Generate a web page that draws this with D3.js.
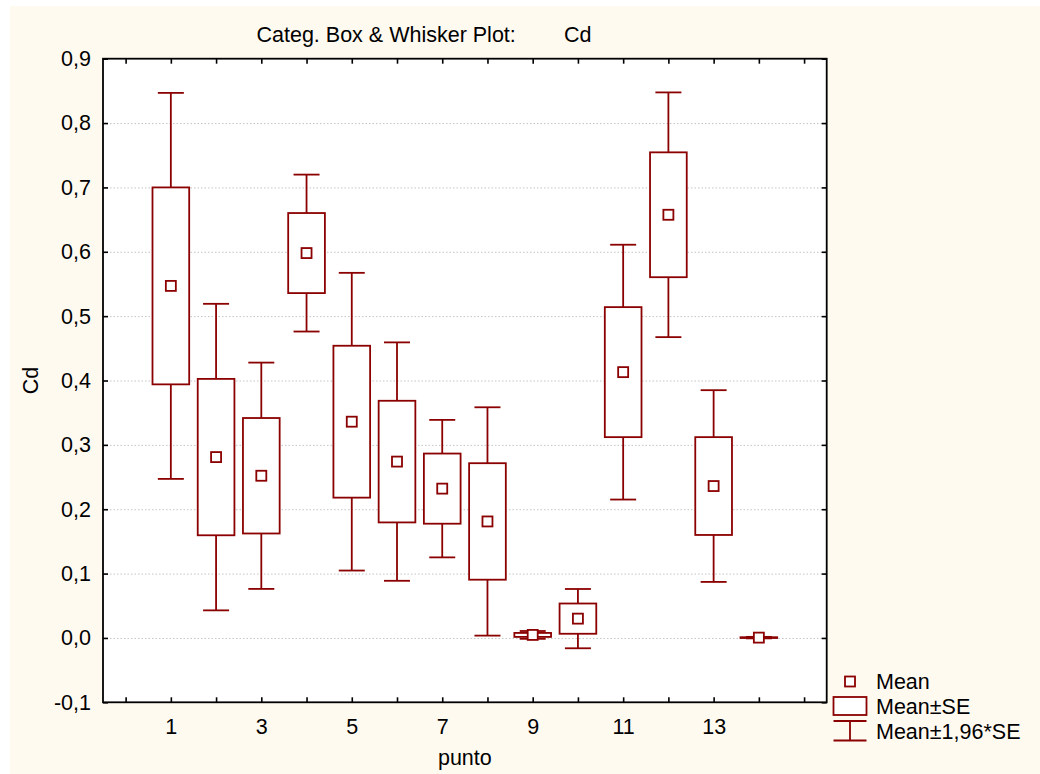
<!DOCTYPE html>
<html>
    <head>
        <meta http-equiv="Content-Type" content="text/html; charset=UTF-8">
        <script src="https://d3js.org/d3.v7.min.js"></script>
        <style>
            html, body {
                margin: 0;
                padding: 0;
                background-color: #ffffff;
            }
            svg text {
                font-family: 'Liberation Sans', Arial, sans-serif;
                font-size: 21.5px;
                fill: #000;
            }
        </style>
        <title>Categ. Box & Whisker Plot: Cd</title>
    </head>
    <body>
        <script>
            // values
            var categories = [1, 2, 3, 4, 5, 6, 7, 8, 9, 10, 11, 12, 13, 14];
            var means = [0.547, 0.281, 0.252, 0.598, 0.336, 0.274, 0.232, 0.181, 0.0047, 0.030, 0.413, 0.6575, 0.236, 0.0005];
            var se = [0.153, 0.1215, 0.0897, 0.0622, 0.118, 0.0945, 0.0545, 0.0905, 0.0031, 0.0235, 0.101, 0.097, 0.076, 0.0006];
            var xTicks = [0, 1, 2, 3, 4, 5, 6, 7, 8, 9, 10, 11, 12, 13, 14, 15];
            var xTickLabels = ["1", "3", "5", "7", "9", "11", "13"];
            var yTicks = [-0.1, 0, 0.1, 0.2, 0.3, 0.4, 0.5, 0.6, 0.7, 0.8, 0.9];
            var legendLabels = ["Mean", "Mean\u00b1SE", "Mean\u00b11,96*SE"];

            var ww = 1040, hh = 774;
            var col = "#8b0000";
            var pl = 103, pr = 826.7, pt = 58.7, pb = 702.3;

            var svg = d3.select("body").append("svg").attr("width", ww).attr("height", hh);

            svg.append("rect").attr("x", 10).attr("y", 6).attr("width", ww - 10).attr("height", hh - 6)
                .style("fill", "#fffaf0");
            svg.append("rect").attr("x", pl).attr("y", pt).attr("width", pr - pl).attr("height", pb - pt)
                .style("fill", "#ffffff");

            var x = d3.scaleLinear().domain([-0.5, 15.5]).range([pl, pr]);
            var y = d3.scaleLinear().domain([-0.1, 0.9]).range([pb, pt]);

            var comma = d3.formatLocale({decimal: ",", thousands: ".", grouping: [3], currency: ["", ""], minus: "-"}).format(".1f");

            // grid
            var grid = svg.append("g").attr("transform", "translate(" + pl + ",0)")
                .call(d3.axisLeft(y).tickValues(yTicks.slice(1, -1)).tickSize(-(pr - pl)).tickFormat(""));
            grid.select(".domain").remove();
            grid.selectAll("line").style("stroke", "#c4c4c4").style("stroke-dasharray", "1.5,2");

            // axes
            var ax = [];
            ax.push(svg.append("g").attr("transform", "translate(0," + pb + ")")
                .call(d3.axisBottom(x).tickValues(xTicks).tickSize(-5).tickSizeOuter(0).tickPadding(16)
                    .tickFormat(function(d) { return xTickLabels.indexOf(String(d)) >= 0 ? String(d) : ""; })));
            ax.push(svg.append("g").attr("transform", "translate(0," + pt + ")")
                .call(d3.axisTop(x).tickValues(xTicks).tickSize(-5).tickSizeOuter(0).tickFormat("")));
            ax.push(svg.append("g").attr("transform", "translate(" + pl + ",0)")
                .call(d3.axisLeft(y).tickValues(yTicks).tickSize(-5).tickSizeOuter(0).tickPadding(12).tickFormat(comma)));
            ax.push(svg.append("g").attr("transform", "translate(" + pr + ",0)")
                .call(d3.axisRight(y).tickValues(yTicks).tickSize(-5).tickSizeOuter(0).tickFormat("")));
            ax.forEach(function(g) {
                g.select(".domain").remove();
                g.selectAll("line").style("stroke", "#000").style("stroke-width", 1.6);
                g.selectAll("text").style("font-size", "21.5px").style("font-family", "'Liberation Sans', Arial, sans-serif");
            });

            svg.append("rect").attr("x", pl).attr("y", pt).attr("width", pr - pl).attr("height", pb - pt)
                .style("fill", "none").style("stroke", "#000").style("stroke-width", 1.8);

            // boxes
            var data = categories.map(function(c, i) {
                return {c: c, m: means[i], se: se[i]};
            });
            var boxW = 36.7, capW = 26, mk = 10;
            var g = svg.append("g").style("stroke", col).style("stroke-width", 1.8).style("fill", "none");
            var it = g.selectAll("g.item").data(data).enter().append("g").attr("class", "item");
            it.append("line")
                .attr("x1", function(d) { return x(d.c); }).attr("x2", function(d) { return x(d.c); })
                .attr("y1", function(d) { return y(d.m + 1.96 * d.se); }).attr("y2", function(d) { return y(d.m - 1.96 * d.se); });
            it.append("line")
                .attr("x1", function(d) { return x(d.c) - capW / 2; }).attr("x2", function(d) { return x(d.c) + capW / 2; })
                .attr("y1", function(d) { return y(d.m + 1.96 * d.se); }).attr("y2", function(d) { return y(d.m + 1.96 * d.se); });
            it.append("line")
                .attr("x1", function(d) { return x(d.c) - capW / 2; }).attr("x2", function(d) { return x(d.c) + capW / 2; })
                .attr("y1", function(d) { return y(d.m - 1.96 * d.se); }).attr("y2", function(d) { return y(d.m - 1.96 * d.se); });
            it.append("rect")
                .attr("x", function(d) { return x(d.c) - boxW / 2; }).attr("width", boxW)
                .attr("y", function(d) { return y(d.m + d.se); })
                .attr("height", function(d) { return y(d.m - d.se) - y(d.m + d.se); })
                .style("fill", "#fff");
            it.append("rect")
                .attr("x", function(d) { return x(d.c) - mk / 2; }).attr("width", mk)
                .attr("y", function(d) { return y(d.m) - mk / 2; }).attr("height", mk)
                .style("fill", "#fff");

            // legend
            var lg = svg.append("g");
            var lx = 850;
            lg.append("rect").attr("x", lx - 5).attr("y", 676.5).attr("width", 10).attr("height", 10)
                .style("fill", "#fff").style("stroke", col).style("stroke-width", 1.8);
            lg.append("rect").attr("x", 833.5).attr("y", 697).attr("width", 33).attr("height", 18)
                .style("fill", "#fff").style("stroke", col).style("stroke-width", 1.8);
            lg.append("line").attr("x1", 833.5).attr("x2", 866.5).attr("y1", 721).attr("y2", 721)
                .style("stroke", col).style("stroke-width", 1.8);
            lg.append("line").attr("x1", 833.5).attr("x2", 866.5).attr("y1", 740.5).attr("y2", 740.5)
                .style("stroke", col).style("stroke-width", 1.8);
            lg.append("line").attr("x1", lx).attr("x2", lx).attr("y1", 721).attr("y2", 740.5)
                .style("stroke", col).style("stroke-width", 1.8);
            lg.selectAll("text.lab").data(legendLabels).enter().append("text").attr("class", "lab")
                .attr("x", 876).attr("y", function(d, i) { return 688.5 + i * 25; })
                .text(function(d) { return d; });

            // titles
            svg.append("text").attr("x", 256.5).attr("y", 41.5).text("Categ. Box & Whisker Plot:");
            svg.append("text").attr("x", 564).attr("y", 41.5).text("Cd");
            svg.append("text").attr("transform", "translate(38," + ((pt + pb) / 2) + ") rotate(-90)")
                .attr("text-anchor", "middle").text("Cd");
            svg.append("text").attr("x", (pl + pr) / 2).attr("y", 765).attr("text-anchor", "middle").text("punto");
        </script>
    </body>
</html>
